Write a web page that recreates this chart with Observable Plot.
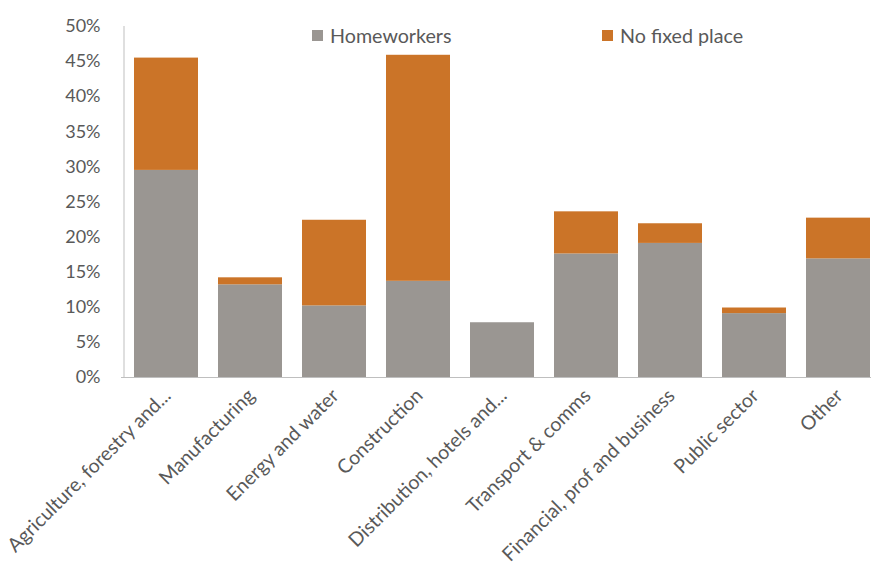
<!DOCTYPE html>
<html>
<head>
<meta charset="utf-8">
<script src="https://cdn.jsdelivr.net/npm/d3@7"></script>
<script src="https://cdn.jsdelivr.net/npm/@observablehq/plot@0.6"></script>
<style>
  html, body { margin: 0; padding: 0; background: #fff; overflow: hidden; }
  #wrap { position: relative; width: 871px; height: 572px; overflow: hidden; font-family: Lato, "Open Sans", sans-serif; }
  .legend-item { position: absolute; display: flex; align-items: center; font-size: 19.7px; color: #595959; white-space: nowrap; }
  .legend-item .sw { width: 11px; height: 11px; margin-right: 7px; }
</style>
</head>
<body>
<div id="wrap"></div>
<script>
const categories = ["Agriculture, forestry and...", "Manufacturing", "Energy and water", "Construction", "Distribution, hotels and...", "Transport & comms", "Financial, prof and business", "Public sector", "Other"];
const homeworkers = [29.5, 13.2, 10.2, 13.7, 7.8, 17.6, 19.1, 9.1, 16.9];
const noFixedPlace = [16.0, 1.0, 12.2, 32.2, 0, 6.0, 2.8, 0.8, 5.8];
const seriesNames = ["Homeworkers", "No fixed place"];
const seriesColors = ["#9a9692", "#cb7428"];
const yTicks = [0, 5, 10, 15, 20, 25, 30, 35, 40, 45, 50];

const rows = [];
categories.forEach((c, i) => {
  rows.push({category: c, series: seriesNames[0], value: homeworkers[i]});
  rows.push({category: c, series: seriesNames[1], value: noFixedPlace[i]});
});

const W = 871, H = 572;
const chart = Plot.plot({
  width: W,
  height: H,
  marginTop: 26,
  marginBottom: 195,
  marginLeft: 121,
  marginRight: 0,
  style: {fontFamily: "Lato, 'Open Sans', sans-serif", color: "#595959", background: "transparent"},
  x: {type: "band", domain: categories, range: [121, 884], paddingInner: 0.233, paddingOuter: 0.117, label: null},
  y: {domain: [0, 50], label: null},
  color: {domain: seriesNames, range: seriesColors},
  marks: [
    Plot.barY(rows, Plot.stackY({x: "category", y: "value", fill: "series", order: seriesNames})),
    Plot.ruleY([0], {stroke: "#bfbfbf", strokeWidth: 1}),
    Plot.ruleX([categories[0]], {y1: 0, y2: 50, stroke: "#bfbfbf", strokeWidth: 1, dx: -42.5}),
    Plot.axisY({ticks: yTicks, tickFormat: d => d + "%", tickSize: 0, tickPadding: 21, fontSize: 18, label: null}),
    Plot.axisX({tickSize: 0, tickRotate: -45, tickPadding: 15, dx: 1, fontSize: 19.5, label: null})
  ]
});
const wrap = document.getElementById("wrap");
wrap.appendChild(chart);

const legendPos = [{left: 312, top: 24}, {left: 602, top: 24}];
seriesNames.forEach((name, i) => {
  const item = document.createElement("div");
  item.className = "legend-item";
  item.style.left = legendPos[i].left + "px";
  item.style.top = legendPos[i].top + "px";
  const sw = document.createElement("div");
  sw.className = "sw";
  sw.style.background = seriesColors[i];
  const tx = document.createElement("span");
  tx.textContent = name;
  item.appendChild(sw);
  item.appendChild(tx);
  wrap.appendChild(item);
});
</script>
</body>
</html>
